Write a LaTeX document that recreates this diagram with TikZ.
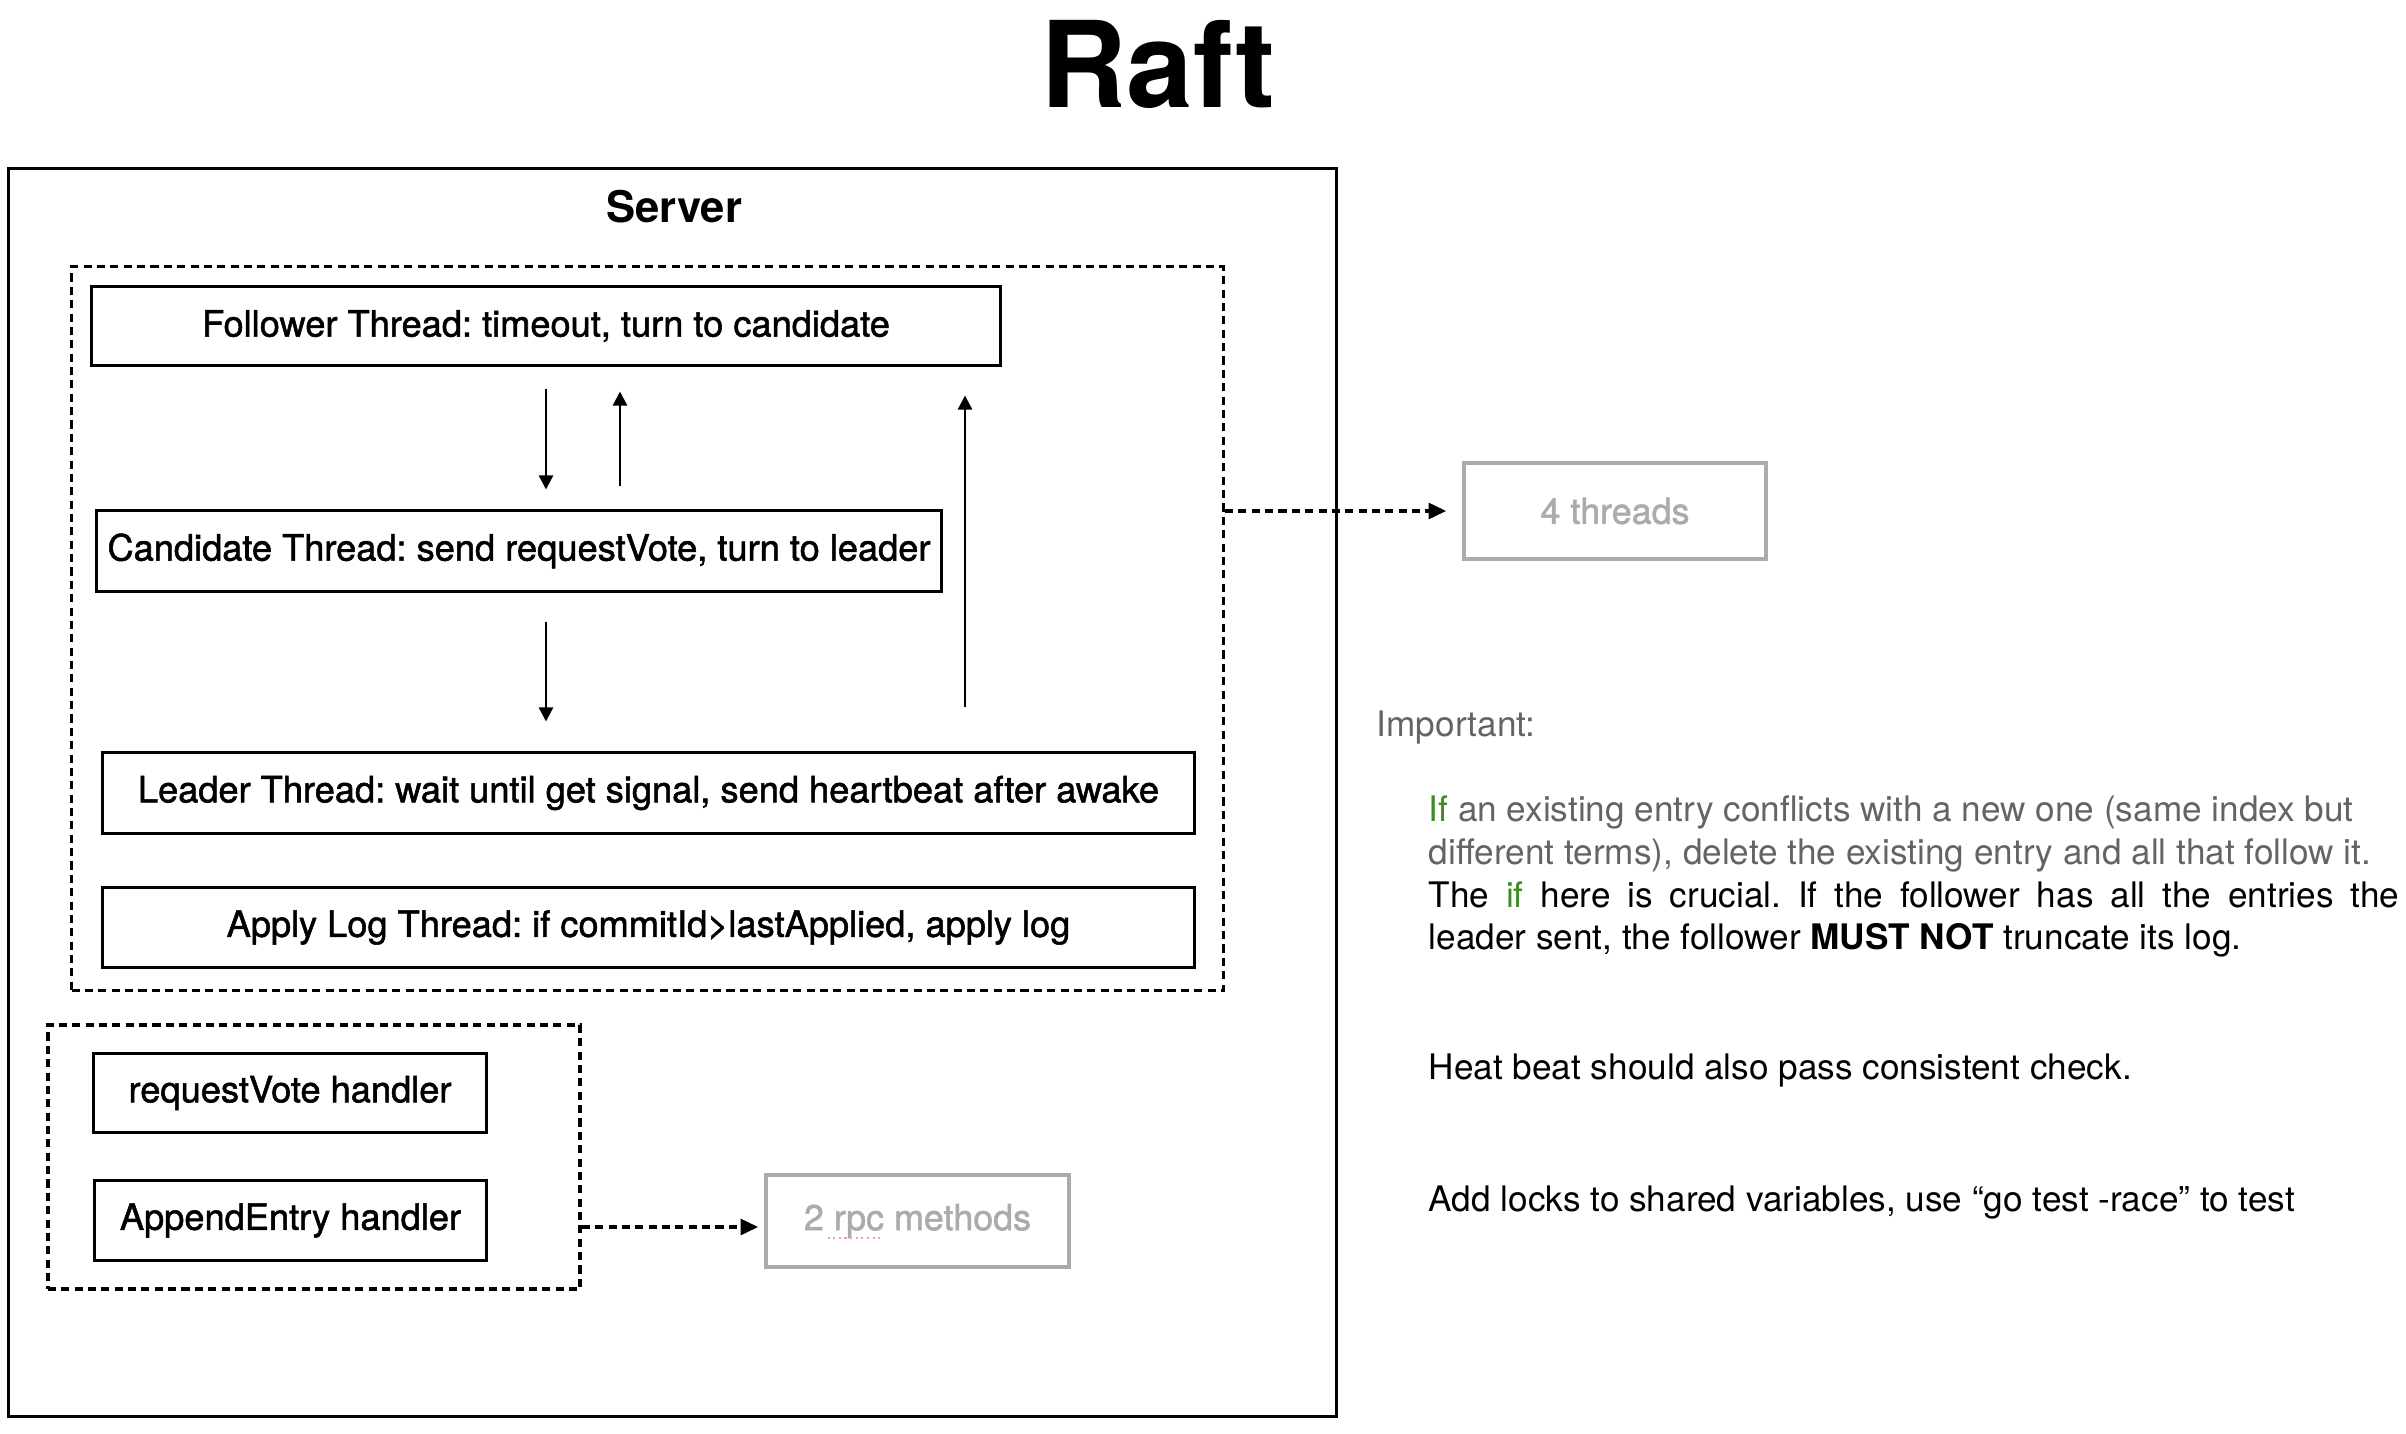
\documentclass[tikz,border=0pt]{standalone}
\usepackage{fontspec}
\setmainfont{TeX Gyre Heros}
\newfontfamily\medfont{TeX Gyre Heros}[UprightFeatures={FakeBold=1.5}]
\usepackage{xcolor}
\usetikzlibrary{arrows.meta, positioning, calc}
\frenchspacing

\definecolor{notegray}{HTML}{646464}
\definecolor{ifgreen}{HTML}{3E8B27}
\definecolor{boxgray}{HTML}{ABABAB}

\begin{document}
\begin{tikzpicture}[x=0.01cm, y=-0.01cm, >=Triangle]
    \tikzset{
        thread/.style={rectangle, draw, line width=0.85pt, inner sep=0pt, align=center, font=\medfont\fontsize{10.3}{12}\selectfont},
        group/.style={rectangle, draw, line width=0.95pt, dash pattern=on 2.3pt off 1.5pt, inner sep=0pt},
        ghost/.style={rectangle, draw=boxgray, text=boxgray, line width=1pt, inner sep=0pt, font=\medfont\fontsize{10.2}{12}\selectfont},
        note/.style={anchor=base west, inner sep=0pt, font=\fontsize{10}{12}\selectfont},
        line/.style={draw, ->, line width=0.7pt, >={Triangle[length=4pt, width=4pt]}},
        dline/.style={draw, ->, line width=0.95pt, dash pattern=on 2.3pt off 1.5pt, >={Triangle[length=5pt, width=4.5pt]}}
    }
    \useasboundingbox (0,0) rectangle (2406,1434);

    \node[font=\bfseries\fontsize{34}{40}\selectfont] (Title) at (1158,64) {Raft};

    % server and its parts
    \node[rectangle, draw, line width=0.95pt, inner sep=0pt, minimum width=13.27cm, minimum height=12.47cm] (Server) at (672.5,792.5) {};
    \node[font=\bfseries\fontsize{12.4}{14}\selectfont] (ServerLabel) at (674,207) {Server};

    \node[group, minimum width=11.51cm, minimum height=7.23cm] (Threads) at (647.5,628.5) {};
    \node[thread, minimum width=9.08cm, minimum height=0.78cm] (Follower) at (546,326) {Follower Thread: timeout, turn to candidate};
    \node[thread, minimum width=8.44cm, minimum height=0.80cm] (Candidate) at (519,551) {Candidate Thread: send requestVote, turn to leader};
    \node[thread, minimum width=10.91cm, minimum height=0.80cm] (Leader) at (648.5,793) {Leader Thread: wait until get signal, send heartbeat after awake};
    \node[thread, minimum width=10.91cm, minimum height=0.79cm] (ApplyLog) at (648.5,927.5) {Apply Log Thread: if commitId>lastApplied, apply log};

    \node[group, minimum width=5.32cm, minimum height=2.64cm] (Handlers) at (314,1157) {};
    \node[thread, minimum width=3.92cm, minimum height=0.78cm] (VoteHandler) at (290,1093) {requestVote handler};
    \node[thread, minimum width=3.91cm, minimum height=0.79cm] (AppendHandler) at (290.5,1220.5) {AppendEntry handler};

    \node[ghost, minimum width=3.02cm, minimum height=0.96cm] (FourThreads) at (1615,511) {4 threads};
    \node[ghost, minimum width=3.03cm, minimum height=0.92cm] (RpcMethods) at (917.5,1221) {2 rpc methods};
    \draw[densely dotted, red!40, line width=0.6pt] ($(RpcMethods.center)+(-90,17)$) -- ($(RpcMethods.center)+(-36,17)$);

    % state changes
    \path[line] ($(Follower.south)+(0,22)$) -- ($(Candidate.north)+(27,-20)$);
    \path[line] ($(Candidate.north)+(101,-23)$) -- ($(Follower.south)+(74,25)$);
    \path[line] ($(Candidate.south)+(27,29)$) -- ($(Leader.north)+(-102.5,-30)$);
    \path[line] ($(Leader.north)+(316.5,-44)$) -- ($(Follower.south)+(419,29)$);

    \path[dline] (Threads.east |- FourThreads.west) -- ($(FourThreads.west)+(-16,0)$);
    \path[dline] ($(Handlers.east |- RpcMethods.west)+(0,6)$) -- ($(RpcMethods.west)+(-6,6)$);

    % notes
    \node[note, text=notegray] (Important) at (1376,737) {Important:};
    \node[note, text=notegray] (Rule1) at (1428,821) {\textcolor{ifgreen}{If} an existing entry conflicts with a new one (same index but};
    \node[note, text=notegray] (Rule2) at (1428,864) {different terms), delete the existing entry and all that follow it.};
    \node[note] (Rule3) at (1428,907) {\makebox[9.70cm][s]{The \textcolor{ifgreen}{if} here is crucial. If the follower has all the entries the}};
    \node[note] (Rule4) at (1428,949) {leader sent, the follower \textbf{MUST NOT} truncate its log.};
    \node[note] (HeartBeat) at (1428,1079) {Heat beat should also pass consistent check.};
    \node[note] (Locks) at (1428,1211) {Add locks to shared variables, use “go test -race” to test};
\end{tikzpicture}
\end{document}
